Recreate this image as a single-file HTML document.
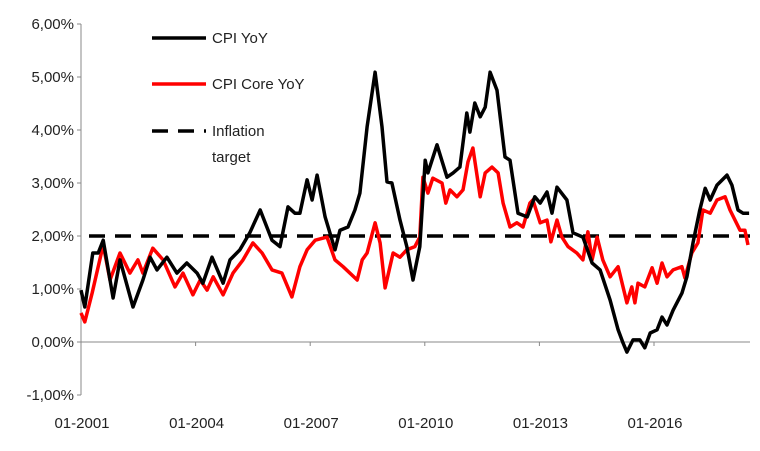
<!DOCTYPE html>
<html><head><meta charset="utf-8"><style>
body{margin:0;background:#fff;}
svg{display:block;font-family:"Liberation Sans",sans-serif;}
</style></head><body>
<svg id="chart" width="760" height="451" viewBox="0 0 760 451"></svg>
<script>
const yearsSince2001Cpi=[0,0.10,0.31,0.45,0.58,0.84,1.02,1.36,1.62,1.81,1.99,2.25,2.51,2.77,3.04,3.19,3.43,3.72,3.90,4.16,4.42,4.69,5.00,5.21,5.42,5.60,5.73,5.92,6.05,6.18,6.39,6.65,6.78,6.99,7.17,7.30,7.49,7.70,7.88,8.01,8.14,8.35,8.53,8.69,8.87,9.01,9.08,9.32,9.58,9.74,9.92,10.10,10.18,10.31,10.45,10.58,10.71,10.89,11.10,11.23,11.44,11.68,11.88,12.02,12.20,12.33,12.46,12.72,12.88,13.14,13.38,13.59,13.85,14.06,14.19,14.29,14.45,14.63,14.76,14.90,15.08,15.21,15.34,15.50,15.73,15.86,16.02,16.20,16.34,16.47,16.65,16.91,17.04,17.20,17.33,17.49];
const cpiValues=[0.98,0.66,1.68,1.68,1.92,0.83,1.55,0.66,1.17,1.6,1.36,1.6,1.3,1.49,1.3,1.11,1.6,1.11,1.55,1.74,2.06,2.49,1.92,1.8,2.55,2.43,2.43,3.06,2.68,3.15,2.36,1.74,2.11,2.17,2.49,2.81,4.06,5.09,4.06,3.02,3.0,2.3,1.8,1.17,1.8,3.43,3.19,3.72,3.11,3.19,3.3,4.32,3.96,4.51,4.25,4.43,5.09,4.75,3.49,3.43,2.43,2.36,2.74,2.62,2.83,2.43,2.92,2.68,2.06,1.98,1.49,1.36,0.79,0.23,-0.02,-0.19,0.04,0.04,-0.11,0.17,0.23,0.47,0.32,0.6,0.92,1.23,1.87,2.49,2.9,2.68,2.96,3.15,2.96,2.49,2.43,2.43];
const yearsSince2001Core=[0,0.10,0.29,0.58,0.76,1.02,1.28,1.49,1.62,1.88,2.15,2.46,2.67,2.93,3.12,3.30,3.46,3.72,3.98,4.24,4.50,4.74,5.00,5.26,5.52,5.73,5.92,6.13,6.44,6.65,6.86,7.23,7.36,7.49,7.70,7.83,7.96,8.17,8.35,8.53,8.74,8.87,8.95,9.08,9.21,9.45,9.55,9.66,9.84,10.00,10.13,10.26,10.45,10.58,10.76,10.92,11.05,11.23,11.41,11.57,11.75,11.83,12.02,12.20,12.30,12.46,12.59,12.75,12.98,13.14,13.27,13.38,13.51,13.66,13.85,14.06,14.29,14.42,14.50,14.58,14.76,14.95,15.08,15.21,15.34,15.50,15.73,15.81,15.99,16.15,16.28,16.47,16.65,16.86,16.99,17.25,17.38,17.46];
const coreValues=[0.55,0.38,0.92,1.83,1.17,1.68,1.3,1.55,1.3,1.77,1.55,1.04,1.3,0.89,1.17,0.98,1.23,0.89,1.3,1.55,1.87,1.68,1.36,1.3,0.85,1.42,1.74,1.92,1.98,1.55,1.42,1.17,1.55,1.68,2.25,1.87,1.02,1.68,1.6,1.74,1.8,1.98,3.11,2.81,3.09,3.0,2.62,2.87,2.74,2.87,3.4,3.66,2.74,3.19,3.3,3.19,2.62,2.17,2.25,2.17,2.62,2.68,2.25,2.3,1.89,2.3,1.98,1.8,1.68,1.55,2.08,1.55,1.98,1.55,1.23,1.42,0.74,1.04,0.74,1.11,1.04,1.4,1.11,1.49,1.23,1.36,1.42,1.21,1.68,1.87,2.49,2.43,2.68,2.74,2.49,2.11,2.11,1.83];
const targetValue=2;
const yTicks=[-1,0,1,2,3,4,5,6];
const yTickLabels=["-1,00%","0,00%","1,00%","2,00%","3,00%","4,00%","5,00%","6,00%"];
const xTickYears=[0,3,6,9,12,15];
const xTickLabels=["01-2001","01-2004","01-2007","01-2010","01-2013","01-2016"];

const svg=document.getElementById('chart');
const NS='http://www.w3.org/2000/svg';
const X0=81,PXY=38.2,Y0=342,PXV=53;
function xs(t){return X0+t*PXY;}
function ys(v){return Y0-v*PXV;}
function mk(tag,attrs,name){const e=document.createElementNS(NS,tag);for(const k in attrs)e.setAttribute(k,attrs[k]);


svg.appendChild(e);return e;}

mk('line',{x1:X0,y1:ys(6),x2:X0,y2:ys(-1),stroke:'#888','stroke-width':1},'y-axis');
yTicks.forEach((v,i)=>{
 mk('line',{x1:X0-4,y1:ys(v),x2:X0,y2:ys(v),stroke:'#888'},'y-tick');
 const t=mk('text',{x:X0-7,y:ys(v)+5,'text-anchor':'end','font-size':15,fill:'#222'},'y-tick-label');t.textContent=yTickLabels[i];
});
mk('line',{x1:X0,y1:Y0,x2:750,y2:Y0,stroke:'#888','stroke-width':1},'x-axis');
xTickYears.forEach((y,i)=>{
 mk('line',{x1:xs(y),y1:Y0,x2:xs(y),y2:Y0+4,stroke:'#888'},'x-tick');
 const t=mk('text',{x:xs(y)+1,y:428,'text-anchor':'middle','font-size':15,fill:'#222'},'x-tick-label');t.textContent=xTickLabels[i];
});
mk('line',{x1:X0+8,y1:ys(targetValue),x2:750,y2:ys(targetValue),stroke:'#000','stroke-width':3.5,'stroke-dasharray':'16,10'},'inflation-target-line');
function path(ts,vs,color,name){
 mk('polyline',{points:ts.map((t,i)=>xs(t).toFixed(1)+','+ys(vs[i]).toFixed(1)).join(' '),fill:'none',stroke:color,'stroke-width':3.5,'stroke-linejoin':'round'},name);
}
path(yearsSince2001Core,coreValues,'#ff0000','cpi-core-yoy-line');
path(yearsSince2001Cpi,cpiValues,'#000','cpi-yoy-line');

mk('line',{x1:152,y1:38,x2:206,y2:38,stroke:'#000','stroke-width':3.5},'legend-cpi-swatch');
let t=mk('text',{x:212,y:43,'font-size':15,fill:'#222'},'legend-cpi-label');t.textContent='CPI YoY';
mk('line',{x1:152,y1:84,x2:206,y2:84,stroke:'#ff0000','stroke-width':3.5},'legend-core-swatch');
t=mk('text',{x:212,y:89,'font-size':15,fill:'#222'},'legend-core-label');t.textContent='CPI Core YoY';
mk('line',{x1:152,y1:131,x2:206,y2:131,stroke:'#000','stroke-width':3.5,'stroke-dasharray':'16,10'},'legend-target-swatch');
t=mk('text',{x:212,y:136,'font-size':15,fill:'#222'},'legend-target-label');t.textContent='Inflation';
t=mk('text',{x:212,y:162,'font-size':15,fill:'#222'},'legend-target-label-2');t.textContent='target';
</script>
</body></html>
